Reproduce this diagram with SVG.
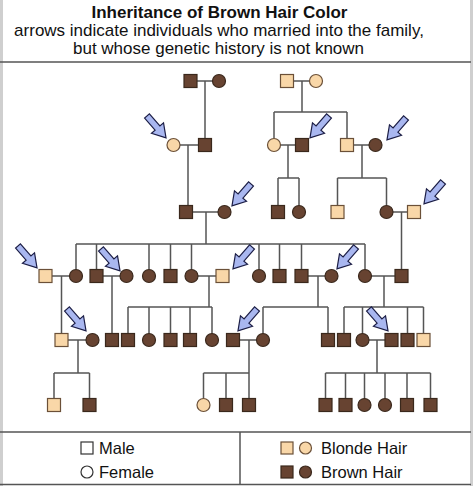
<svg xmlns="http://www.w3.org/2000/svg" xmlns:xlink="http://www.w3.org/1999/xlink" width="474" height="486" viewBox="0 0 474 486">
<style>
.br{fill:#674331;stroke:#3a281c;stroke-width:1.2}
.bl{fill:#f9d7a8;stroke:#6b5038;stroke-width:1.2}
.lg{fill:#fff;stroke:#333;stroke-width:1.2}
.cn path{fill:none;stroke:#555;stroke-width:1.5}
.ar{fill:#a9b7f0;stroke:#1b1d45;stroke-width:1.2;stroke-linejoin:miter}
.frame{stroke:#555;stroke-width:1.5;fill:none}
text{font-family:"Liberation Sans",Arial,sans-serif;fill:#111}
.t1{font-size:17px;font-weight:bold}
.t2{font-size:17px}
.leg{font-size:16.5px}
</style>
<defs>
<path id="arr" class="ar" d="M0,-3.2 L16,-3.2 L16,-8 L29,0 L16,8 L16,3.2 L0,3.2 Z"/>
</defs>
<rect width="474" height="486" fill="#fff"/>
<path d="M1.5,0 V486 M471.5,0 V486" stroke="#cfcfcf" stroke-width="3" fill="none"/>
<g id="title">
<text class="t1" x="219.5" y="18" text-anchor="middle">Inheritance of Brown Hair Color</text>
<text class="t2" x="219" y="35.5" text-anchor="middle">arrows indicate individuals who married into the family,</text>
<text class="t2" x="218.5" y="53.5" text-anchor="middle">but whose genetic history is not known</text>
</g>
<path class="frame" d="M0,62 H471 M0,432 H471 M0,484.5 H471 M240,432 V484.5"/>
<g id="connectors" class="cn">
<path d="M197,81 H212.5 M205,81 V138.5"/>
<path d="M293.5,81 H309.5 M302,81 V112 M274,112 H347 M274,112 V138.5 M347,112 V138.5"/>
<path d="M180,145 H198.5 M188,145 V205.5"/>
<path d="M280.5,145 H295.5 M288,145 V178 M278,178 H299 M278,178 V205.5 M299,178 V205.5"/>
<path d="M353.5,145 H369 M362,145 V178 M337.5,178 H386.5 M337.5,178 V205.5 M386.5,178 V205.5"/>
<path d="M192.5,212 H218 M206,212 V244 M76,244 H365 M76,244 V269.5 M96.5,244 V269.5 M149,244 V269.5 M170.5,244 V269.5 M191.5,244 V269.5 M259,244 V269.5 M279.5,244 V269.5 M301.5,244 V269.5 M365,244 V269.5"/>
<path d="M393,212 H407.5 M401.5,212 V269.5"/>
<path d="M52,276 H69.5 M61.5,276 V333.5"/>
<path d="M103,276 H120 M112,276 V333.5"/>
<path d="M198,276 H216 M209,276 V307 M128,307 H212 M128,307 V333.5 M149,307 V333.5 M170.5,307 V333.5 M190,307 V333.5 M212,307 V333.5"/>
<path d="M308,276 H325 M318,276 V307 M263,307 H328 M263,307 V333.5 M328,307 V333.5"/>
<path d="M371.5,276 H395 M384,276 V307 M344,307 H423.5 M344,307 V333.5 M362.5,307 V333.5 M407.5,307 V333.5 M423.5,307 V333.5"/>
<path d="M68,340 H86 M78,340 V373 M54,373 H89.5 M54,373 V398.5 M89.5,373 V398.5"/>
<path d="M239.5,340 H256.5 M249,340 V398.5 M203.5,373 H249 M203.5,373 V398.5 M226,373 V398.5"/>
<path d="M369,340 H385 M377,340 V373 M325.5,373 H430.5 M325.5,373 V398.5 M345.5,373 V398.5 M364.5,373 V398.5 M385,373 V398.5 M407,373 V398.5 M430.5,373 V398.5"/>
</g>
<g id="nodes">
<g id="p1"><rect class="br" x="184" y="74.5" width="13" height="13"/></g>
<g id="p2"><circle class="br" cx="219" cy="81" r="6.5"/></g>
<g id="p3"><rect class="bl" x="280.5" y="74.5" width="13" height="13"/></g>
<g id="p4"><circle class="bl" cx="316" cy="81" r="6.5"/></g>
<g id="p5"><circle class="bl" cx="173.5" cy="145" r="6.5"/></g>
<g id="p6"><rect class="br" x="198.5" y="138.5" width="13" height="13"/></g>
<g id="p7"><circle class="bl" cx="274" cy="145" r="6.5"/></g>
<g id="p8"><rect class="br" x="295.5" y="138.5" width="13" height="13"/></g>
<g id="p9"><rect class="bl" x="340.5" y="138.5" width="13" height="13"/></g>
<g id="p10"><circle class="br" cx="375.5" cy="145" r="6.5"/></g>
<g id="p11"><rect class="br" x="179.5" y="205.5" width="13" height="13"/></g>
<g id="p12"><circle class="br" cx="224.5" cy="212" r="6.5"/></g>
<g id="p13"><rect class="br" x="271.5" y="205.5" width="13" height="13"/></g>
<g id="p14"><circle class="br" cx="299" cy="212" r="6.5"/></g>
<g id="p15"><rect class="bl" x="331" y="205.5" width="13" height="13"/></g>
<g id="p16"><circle class="br" cx="386.5" cy="212" r="6.5"/></g>
<g id="p17"><rect class="bl" x="407.5" y="205.5" width="13" height="13"/></g>
<g id="p18"><rect class="bl" x="39" y="269.5" width="13" height="13"/></g>
<g id="p19"><circle class="br" cx="76" cy="276" r="6.5"/></g>
<g id="p20"><rect class="br" x="90" y="269.5" width="13" height="13"/></g>
<g id="p21"><circle class="br" cx="126.5" cy="276" r="6.5"/></g>
<g id="p22"><circle class="br" cx="149" cy="276" r="6.5"/></g>
<g id="p23"><rect class="br" x="164" y="269.5" width="13" height="13"/></g>
<g id="p24"><circle class="br" cx="191.5" cy="276" r="6.5"/></g>
<g id="p25"><rect class="bl" x="216" y="269.5" width="13" height="13"/></g>
<g id="p26"><circle class="br" cx="259" cy="276" r="6.5"/></g>
<g id="p27"><rect class="br" x="273" y="269.5" width="13" height="13"/></g>
<g id="p28"><rect class="br" x="295" y="269.5" width="13" height="13"/></g>
<g id="p29"><circle class="br" cx="331.5" cy="276" r="6.5"/></g>
<g id="p30"><circle class="br" cx="365" cy="276" r="6.5"/></g>
<g id="p31"><rect class="br" x="395" y="269.5" width="13" height="13"/></g>
<g id="p32"><rect class="bl" x="55" y="333.5" width="13" height="13"/></g>
<g id="p33"><circle class="br" cx="92.5" cy="340" r="6.5"/></g>
<g id="p34"><rect class="br" x="105.5" y="333.5" width="13" height="13"/></g>
<g id="p35"><rect class="br" x="121.5" y="333.5" width="13" height="13"/></g>
<g id="p36"><circle class="br" cx="149" cy="340" r="6.5"/></g>
<g id="p37"><rect class="br" x="164" y="333.5" width="13" height="13"/></g>
<g id="p38"><rect class="br" x="183.5" y="333.5" width="13" height="13"/></g>
<g id="p39"><circle class="br" cx="212" cy="340" r="6.5"/></g>
<g id="p40"><rect class="br" x="226.5" y="333.5" width="13" height="13"/></g>
<g id="p41"><circle class="br" cx="263" cy="340" r="6.5"/></g>
<g id="p42"><rect class="br" x="321.5" y="333.5" width="13" height="13"/></g>
<g id="p43"><rect class="br" x="337.5" y="333.5" width="13" height="13"/></g>
<g id="p44"><circle class="br" cx="362.5" cy="340" r="6.5"/></g>
<g id="p45"><rect class="br" x="385" y="333.5" width="13" height="13"/></g>
<g id="p46"><rect class="br" x="401" y="333.5" width="13" height="13"/></g>
<g id="p47"><rect class="bl" x="417" y="333.5" width="13" height="13"/></g>
<g id="p48"><rect class="bl" x="47.5" y="398.5" width="13" height="13"/></g>
<g id="p49"><rect class="br" x="83" y="398.5" width="13" height="13"/></g>
<g id="p50"><circle class="bl" cx="203.5" cy="405" r="6.5"/></g>
<g id="p51"><rect class="br" x="219.5" y="398.5" width="13" height="13"/></g>
<g id="p52"><rect class="br" x="242.5" y="398.5" width="13" height="13"/></g>
<g id="p53"><rect class="br" x="319" y="398.5" width="13" height="13"/></g>
<g id="p54"><rect class="br" x="339" y="398.5" width="13" height="13"/></g>
<g id="p55"><circle class="br" cx="364.5" cy="405" r="6.5"/></g>
<g id="p56"><circle class="br" cx="385" cy="405" r="6.5"/></g>
<g id="p57"><rect class="br" x="400.5" y="398.5" width="13" height="13"/></g>
<g id="p58"><rect class="br" x="424" y="398.5" width="13" height="13"/></g>
</g>
<g id="arrows">
<use xlink:href="#arr" transform="translate(147,116) rotate(49)"/>
<use xlink:href="#arr" transform="translate(329,116) rotate(131)"/>
<use xlink:href="#arr" transform="translate(406,118) rotate(131)"/>
<use xlink:href="#arr" transform="translate(251,184) rotate(131)"/>
<use xlink:href="#arr" transform="translate(443,182) rotate(131)"/>
<use xlink:href="#arr" transform="translate(18,246) rotate(49)"/>
<use xlink:href="#arr" transform="translate(101,249) rotate(49)"/>
<use xlink:href="#arr" transform="translate(252,247) rotate(131)"/>
<use xlink:href="#arr" transform="translate(356,247) rotate(131)"/>
<use xlink:href="#arr" transform="translate(67,309) rotate(49)"/>
<use xlink:href="#arr" transform="translate(257,309) rotate(131)"/>
<use xlink:href="#arr" transform="translate(369,309) rotate(49)"/>
</g>
<g id="legend">
<rect class="lg" x="81" y="442" width="12" height="12"/>
<text class="leg" x="99" y="453.5">Male</text>
<circle class="lg" cx="87" cy="472" r="6"/>
<text class="leg" x="99" y="477.5">Female</text>
<rect class="bl" x="281" y="442" width="12" height="12"/>
<circle class="bl" cx="305.5" cy="448" r="6"/>
<text class="leg" x="321" y="453.5">Blonde Hair</text>
<rect class="br" x="281" y="466" width="12" height="12"/>
<circle class="br" cx="305.5" cy="472" r="6"/>
<text class="leg" x="321" y="477.5">Brown Hair</text>
</g>
</svg>
